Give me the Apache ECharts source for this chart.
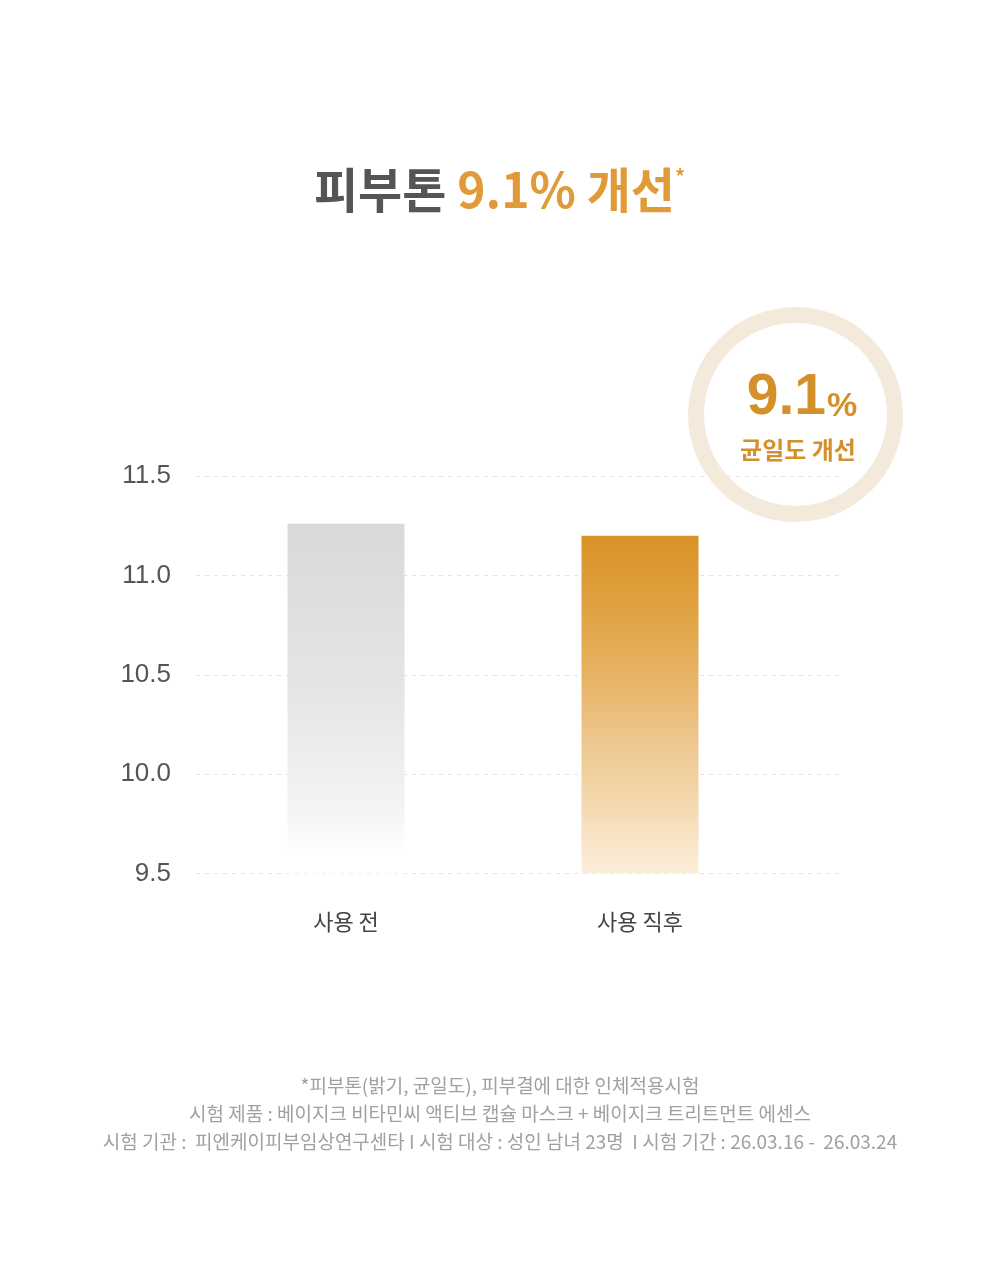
<!DOCTYPE html>
<html>
<head>
<meta charset="utf-8">
<script src="https://cdn.jsdelivr.net/npm/echarts@6/dist/echarts.min.js"></script>
<style>
  html, body { margin: 0; padding: 0; background: #fff; }
  #chart { width: 999px; height: 1266px; }
</style>
</head>
<body>
<div id="chart"></div>
<script>
// 데이터
var categories = ['사용 전', '사용 직후'];
var values = [11.26, 11.2];
var yTicks = [9.5, 10.0, 10.5, 11.0, 11.5];
var improve = '9.1';
var footnotes = [
  '*피부톤(밝기, 균일도), 피부결에 대한 인체적용시험',
  '시험 제품 : 베이지크 비타민씨 액티브 캡슐 마스크 + 베이지크 트리트먼트 에센스',
  '시험 기관 :  피엔케이피부임상연구센타 I 시험 대상 : 성인 남녀 23명  I 시험 기간 : 26.03.16 -  26.03.24'
];

var KR = '"Noto Sans CJK KR", "Noto Sans", sans-serif';

// 막대 그라데이션
var grads = [
  new echarts.graphic.LinearGradient(0, 0, 0, 1, [
    { offset: 0, color: '#d9d9db' },
    { offset: 0.5, color: '#e6e6e7' },
    { offset: 0.8, color: '#f3f3f3' },
    { offset: 0.95, color: '#ffffff' },
    { offset: 1, color: '#ffffff' }
  ]),
  new echarts.graphic.LinearGradient(0, 0, 0, 1, [
    { offset: 0, color: '#d99226' },
    { offset: 0.3, color: '#e3a84e' },
    { offset: 0.6, color: '#edc68c' },
    { offset: 0.8, color: '#f4d9b0' },
    { offset: 1, color: '#fbefdc' }
  ])
];

var chart = echarts.init(document.getElementById('chart'));

var option = {
  backgroundColor: '#ffffff',
  animation: false,
  title: {
    left: 'center',
    top: 161,
    text: '{a|피부톤}{b| ' + improve + '% 개선}{c|*}',
    textStyle: {
      rich: {
        a: { fontFamily: KR, fontSize: 48, fontWeight: 'bold', color: '#555555' },
        b: { fontFamily: KR, fontSize: 48, fontWeight: 'bold', color: '#e09b38' },
        c: { fontFamily: KR, fontSize: 20, fontWeight: 'bold', color: '#e09b38', verticalAlign: 'top', padding: [0, 0, 28, 0] }
      }
    }
  },
  grid: [
    // 눈금선/라벨용
    { left: 196, right: 160, top: 476, bottom: 392.5 },
    // 막대용
    { left: 199, right: 212, top: 476, bottom: 392.5 }
  ],
  xAxis: [
    { gridIndex: 0, type: 'category', data: categories, show: false },
    {
      gridIndex: 1,
      type: 'category',
      data: categories,
      axisLine: { show: false },
      axisTick: { show: false },
      axisLabel: { margin: 37, fontFamily: KR, fontSize: 22, color: '#444444' }
    }
  ],
  yAxis: [
    {
      gridIndex: 0,
      type: 'value',
      min: yTicks[0],
      max: yTicks[yTicks.length - 1],
      interval: 0.5,
      axisLine: { show: false },
      axisTick: { show: false },
      axisLabel: {
        margin: 25,
        fontFamily: '"Liberation Sans", Arial, sans-serif',
        fontSize: 26,
        color: '#555555',
        formatter: function (v) { return v.toFixed(1); }
      },
      splitLine: { lineStyle: { color: '#e2e2e2', type: [4, 5], width: 1 } }
    },
    {
      gridIndex: 1,
      type: 'value',
      min: yTicks[0],
      max: yTicks[yTicks.length - 1],
      interval: 0.5,
      show: false,
      splitLine: { show: false }
    }
  ],
  series: [
    {
      type: 'bar',
      xAxisIndex: 1,
      yAxisIndex: 1,
      barWidth: 117,
      data: values.map(function (v, i) {
        return { value: v, itemStyle: { color: grads[i] } };
      })
    }
  ],
  graphic: [
    {
      type: 'circle',
      shape: { cx: 795.5, cy: 414.5, r: 99.5 },
      style: { fill: 'none', stroke: '#f3eadb', lineWidth: 16 },
      z: 10
    },
    {
      type: 'text',
      x: 802,
      y: 398,
      style: {
        text: '{n|' + improve + '}{p|%}',
        align: 'center',
        verticalAlign: 'middle',
        rich: {
          n: { fontFamily: '"Liberation Sans", Arial, sans-serif', fontSize: 57, fontWeight: 'bold', fill: '#d4902a', verticalAlign: 'bottom' },
          p: { fontFamily: '"Liberation Sans", Arial, sans-serif', fontSize: 34, fontWeight: 'bold', fill: '#d4902a', verticalAlign: 'bottom', padding: [0, 0, 3, 1] }
        }
      },
      z: 11
    },
    {
      type: 'text',
      x: 798,
      y: 450,
      style: {
        text: '균일도 개선',
        align: 'center',
        verticalAlign: 'middle',
        fontFamily: KR,
        fontSize: 24,
        fontWeight: 'bold',
        fill: '#d4902a'
      },
      z: 11
    },
    {
      type: 'text',
      x: 500,
      y: 1114,
      style: {
        text: footnotes.join('\n'),
        align: 'center',
        verticalAlign: 'middle',
        lineHeight: 28,
        fontFamily: KR,
        fontSize: 19,
        fill: '#a0a0a0'
      }
    }
  ]
};

chart.setOption(option);
</script>
</body>
</html>
